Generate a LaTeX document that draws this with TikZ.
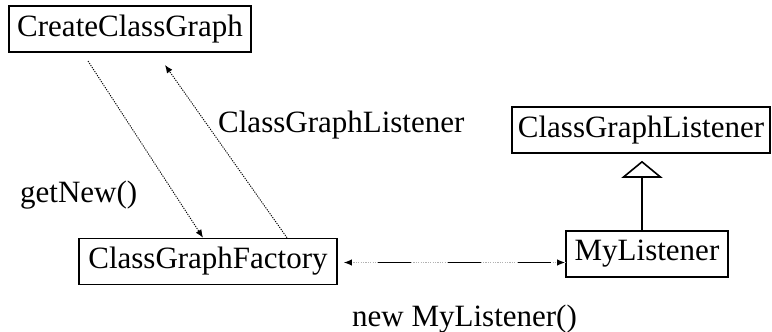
\documentclass[tikz,border=0pt]{standalone}
\usepackage{fontspec}
\setmainfont{Liberation Serif}
\usetikzlibrary{arrows.meta}
\begin{document}
\begin{tikzpicture}[x=1pt,y=-1pt,
  txt/.style={font=\fontsize{31}{37}\selectfont},
  cls/.style={txt,draw,line width=1.6pt,minimum height=46pt,inner sep=0pt},
  lbl/.style={txt,anchor=base west,inner sep=0pt},
  tip/.style={-{Latex[length=8pt,width=6.5pt]}},
  msg/.style={tip,line width=0.9pt,dash pattern=on 1.2pt off 1.2pt},
  inh/.style={line width=1.6pt,-{Triangle[open,length=17pt,width=41pt]}}]
\useasboundingbox (0,0) rectangle (772,332);

% classes
\node[cls,minimum width=242pt] (ccg) at (130,29) {CreateClassGraph};
\node[cls,minimum width=258pt] (cgf) at (208,261.5) {ClassGraphFactory};
\node[cls,minimum width=258pt] (cgl) at (641,130) {ClassGraphListener};
\node[cls,minimum width=162pt] (ml) at (647,254) {MyListener};

% message labels
\node[lbl] (lget) at (20,202) {getNew()};
\node[lbl] (llis) at (218,132) {ClassGraphListener};
\node[lbl] (lnew) at (352,326) {new MyListener()};

% messages between the objects
\coordinate (getstart) at (88,61);
\coordinate (lisend) at (165,65);
\draw[msg] (getstart) -- ([xshift=-5pt]cgf.north);
\draw[msg] ([xshift=79pt]cgf.north) -- (lisend);

% creation link: grey dotted base with black dashes on top
\coordinate (cgfr) at ([yshift=-1pt]cgf.east);
\draw[gray!60,line width=0.9pt,dash pattern=on 1.2pt off 1.2pt,shorten <=6pt]
  (cgfr) -- (cgfr -| ml.west);
\draw[line width=1.4pt,dash pattern=on 33pt off 37pt,dash phase=43pt,
  {Latex[length=8pt,width=6.5pt]}-{Latex[length=8pt,width=6.5pt]},shorten <=6pt]
  (cgfr) -- (cgfr -| ml.west);

% inheritance
\draw[inh] (ml.north -| 642,0) -- ([yshift=-7pt]cgl.south -| 642,0);
\end{tikzpicture}
\end{document}
